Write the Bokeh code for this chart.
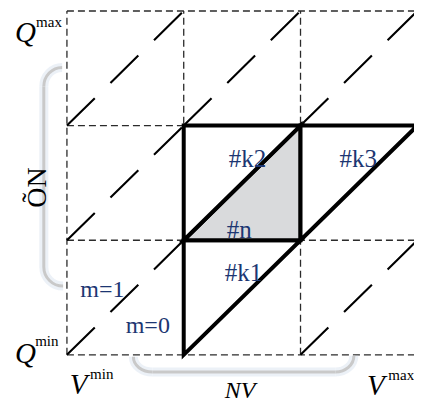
import numpy as np
from bokeh.plotting import figure
from bokeh.models import Range1d
from bokeh.core.properties import value
from bokeh.embed import file_html
from bokeh.resources import INLINE

# ---- data: grid of cells (columns in NV steps, rows in charge steps) ----
grid_x = [0, 1, 2, 3]
grid_y = [0, 1, 2, 3]

# highlighted triangles
tri_names = ["#k1", "#n", "#k2", "#k3"]
tri_xs = [[1, 1, 2], [1, 2, 2], [1, 1, 2], [2, 2, 3]]
tri_ys = [[0, 1, 1], [1, 1, 2], [1, 2, 2], [1, 2, 2]]
tri_fill = ["white", "#d9dadc", "white", "white"]

# cells whose diagonal is dashed (lower-left corners)
dash_cell_x = [0, 0, 0, 1, 2, 2]
dash_cell_y = [0, 1, 2, 2, 2, 0]

# line-index labels
m_labels = ["m=1", "m=0"]

# ---- layout constants ----
SERIF = value("Liberation Serif")
BLUE = "#1c3672"

p = figure(width=414, height=404, output_backend="svg", toolbar_location=None,
           x_range=Range1d(-0.5688, 2.976), y_range=Range1d(-0.4333, 3.0917),
           min_border=0, outline_line_color=None)
p.axis.visible = False
p.grid.visible = False
p.background_fill_color = "white"
p.border_fill_color = "white"

x0, x1 = grid_x[0], grid_x[-1]
y0, y1 = grid_y[0], grid_y[-1]

# dashed grid
p.segment(x0=[x0] * len(grid_y), y0=grid_y, x1=[x1] * len(grid_y), y1=grid_y,
          line_color="#2b2b2b", line_width=1.3, line_dash="7 4")
p.segment(x0=grid_x, y0=[y0] * len(grid_x), x1=grid_x, y1=[y1] * len(grid_x),
          line_color="#2b2b2b", line_width=1.3, line_dash="7 4")

# dashed diagonals
dx0 = np.array(dash_cell_x, dtype=float)
dy0 = np.array(dash_cell_y, dtype=float)
p.segment(x0=dx0, y0=dy0, x1=dx0 + 1, y1=dy0 + 1,
          line_color="black", line_width=2.1, line_dash="39 22")

# brackets (glow + line)
lx, ly0, ly1 = -0.198, 0.6, 2.508
by = -0.15
bez = dict(
    x0=[lx, lx, 0.569, 2.457], y0=[2.342, 0.767, -0.017, -0.008],
    x1=[-0.041, -0.033, 0.734, 2.300], y1=[ly1, ly0, by, by],
    cx0=[lx, lx, 0.569, 2.457], cy0=[2.433, 0.675, -0.095, -0.09],
    cx1=[-0.128, -0.124, 0.643, 2.383], cy1=[ly1, ly0, by, by],
)
seg = dict(x0=[lx, 0.734], y0=[0.767, by], x1=[lx, 2.300], y1=[2.342, by])
for col, w, a in [("#e4ebf4", 9, 0.7), ("#c9c9c9", 3, 1.0)]:
    p.bezier(line_color=col, line_width=w, line_alpha=a, **bez)
    p.segment(line_color=col, line_width=w, line_alpha=a, **seg)

# triangles
p.patches(xs=tri_xs, ys=tri_ys, fill_color=tri_fill, line_color="black",
          line_width=4, line_join="miter")

# triangle labels
tri_lx = [1.352, 1.369, 1.385, 2.333]
tri_ly = [0.717, 1.092, 1.717, 1.717]
p.text(x=tri_lx, y=tri_ly, text=tri_names, text_font=SERIF, text_font_size="25px",
       text_color=BLUE, text_align="left", text_baseline="alphabetic")

p.text(x=[0.115, 0.503], y=[0.575, 0.258], text=m_labels, text_font=SERIF,
       text_font_size="24px", text_color=BLUE, text_align="left",
       text_baseline="alphabetic")

# axis-extreme labels
p.text(x=[-0.445, -0.445, 0.025, 2.57], y=[2.817, 0.017, -0.258, -0.267],
       text=["Q", "Q", "V", "V"], text_font=SERIF, text_font_size="29px",
       text_font_style="italic", text_color="black", text_align="left",
       text_baseline="alphabetic")
p.text(x=[-0.264, -0.272, 0.198, 2.752], y=[2.908, 0.117, -0.167, -0.175],
       text=["max", "min", "min", "max"], text_font=SERIF, text_font_size="15px",
       text_color="black", text_align="left", text_baseline="alphabetic")

# range labels
p.text(x=[1.352], y=[-0.31], text=["NV"], text_font=SERIF, text_font_size="24px",
       text_font_style="italic", text_color="black", text_align="left",
       text_baseline="alphabetic")
p.text(x=[-0.264], y=[1.283], text=["ÕN"], text_font=SERIF, text_font_size="28px",
       text_color="black", text_align="left", text_baseline="alphabetic",
       angle=np.pi / 2)

open("out.html", "w").write(file_html(p, INLINE))
